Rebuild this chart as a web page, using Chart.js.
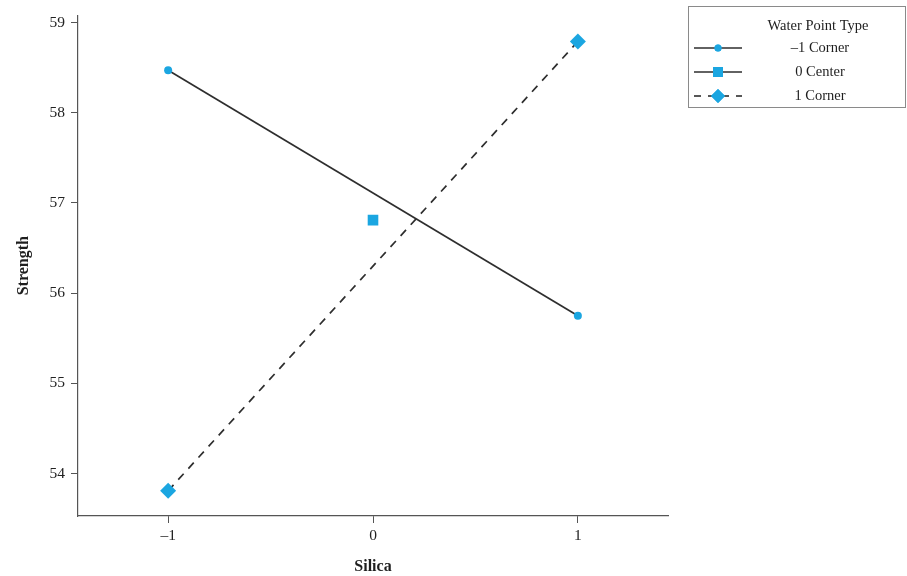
<!DOCTYPE html>
<html>
<head>
<meta charset="utf-8">
<script src="https://cdn.jsdelivr.net/npm/chart.js@4/dist/chart.umd.min.js"></script>
<style>
  html, body { margin: 0; padding: 0; background: #fff; }
  #wrap { width: 907px; height: 576px; position: relative; }
</style>
</head>
<body>
<div id="wrap"><canvas id="c" width="907" height="576"></canvas></div>
<script>
// Interaction plot: Strength vs Silica by water point type
const silicaLevels = [-1, 1];
const xTicks = [-1, 0, 1];
const yTicks = [54, 55, 56, 57, 58, 59];
const cornerLow = [58.47, 55.75];   // water point -1
const centerX = [0];
const centerPoint = [56.81];        // water point 0
const cornerHigh = [53.81, 58.79];  // water point 1
const seriesLabels = ['\u20131 Corner', '0 Center', '1 Corner'];
const legendTitle = 'Water Point Type';

const MARK = '#1ba6e1';
const LINE = '#2e2e2e';
const FONT = '"Liberation Serif", "DejaVu Serif", serif';

const pairs = (xs, ys) => xs.map((x, i) => ({ x, y: ys[i] }));

const legendPlugin = {
  id: 'wpLegend',
  afterDraw(chart) {
    const ctx = chart.ctx;
    ctx.save();
    const bx = 688, by = 6, bw = 217, bh = 101;
    ctx.strokeStyle = '#8a8a8a';
    ctx.lineWidth = 1;
    ctx.strokeRect(bx + 0.5, by + 0.5, bw, bh);
    ctx.fillStyle = '#1e1e1e';
    ctx.font = '14.5px ' + FONT;
    ctx.textAlign = 'center';
    ctx.textBaseline = 'middle';
    ctx.fillText(legendTitle, 818, 26);
    const rows = [48, 72, 96];
    const styles = [
      { dash: [], shape: 'circle', r: 3.5 },
      { dash: [], shape: 'rect', r: 7 },
      { dash: [7, 7], shape: 'rectRot', r: 7 }
    ];
    rows.forEach((y, i) => {
      const s = styles[i];
      ctx.strokeStyle = LINE;
      ctx.lineWidth = 1.6;
      ctx.setLineDash(s.dash);
      ctx.beginPath();
      ctx.moveTo(694, y);
      ctx.lineTo(742, y);
      ctx.stroke();
      ctx.setLineDash([]);
      ctx.fillStyle = MARK;
      Chart.helpers.drawPoint(ctx, { pointStyle: s.shape, radius: s.r, borderWidth: 0 }, 718, y);
      ctx.fill();
      ctx.fillStyle = '#1e1e1e';
      ctx.fillText(seriesLabels[i], 820, y);
    });
    ctx.restore();
  }
};

new Chart(document.getElementById('c'), {
  type: 'scatter',
  data: {
    datasets: [
      {
        label: seriesLabels[0],
        data: pairs(silicaLevels, cornerLow),
        showLine: true,
        borderColor: LINE,
        borderWidth: 1.7,
        pointStyle: 'circle',
        pointRadius: 4,
        pointBackgroundColor: MARK,
        pointBorderWidth: 0
      },
      {
        label: seriesLabels[1],
        data: pairs(centerX, centerPoint),
        showLine: false,
        pointStyle: 'rect',
        pointRadius: 7.5,
        pointBackgroundColor: MARK,
        pointBorderWidth: 0
      },
      {
        label: seriesLabels[2],
        data: pairs(silicaLevels, cornerHigh),
        showLine: true,
        borderColor: LINE,
        borderWidth: 1.7,
        borderDash: [8, 7],
        pointStyle: 'rectRot',
        pointRadius: 8,
        pointBackgroundColor: MARK,
        pointBorderWidth: 0
      }
    ]
  },
  options: {
    responsive: false,
    animation: false,
    layout: { padding: { top: 12, right: 239, left: 0, bottom: 0 } },
    plugins: { legend: { display: false }, tooltip: { enabled: false } },
    scales: {
      x: {
        type: 'linear',
        min: -1.44,
        max: 1.44,
        afterBuildTicks(scale) { scale.ticks = xTicks.map(v => ({ value: v })); },
        afterFit(scale) { scale.height = 60; },
        ticks: {
          color: '#222',
          font: { family: FONT, size: 15.5 },
          padding: 4,
          callback: v => (v < 0 ? '\u2013' + Math.abs(v) : String(v))
        },
        grid: { display: true, drawOnChartArea: false, drawTicks: true, tickLength: 7, color: '#555' },
        border: { display: true, color: '#555', width: 1.2 },
        title: {
          display: true,
          text: 'Silica',
          color: '#1e1e1e',
          font: { family: FONT, size: 16, weight: 'bold' },
          padding: { top: 2, bottom: 0 }
        }
      },
      y: {
        type: 'linear',
        min: 53.53,
        max: 59.08,
        afterBuildTicks(scale) { scale.ticks = yTicks.map(v => ({ value: v })); },
        afterFit(scale) { scale.width = 78; },
        ticks: {
          color: '#222',
          font: { family: FONT, size: 15.5 },
          padding: 6
        },
        grid: { display: true, drawOnChartArea: false, drawTicks: true, tickLength: 7, color: '#555' },
        border: { display: true, color: '#555', width: 1.2 },
        title: {
          display: true,
          text: 'Strength',
          color: '#1e1e1e',
          font: { family: FONT, size: 16, weight: 'bold' },
          padding: { top: 14, bottom: 4 }
        }
      }
    }
  },
  plugins: [legendPlugin]
});
</script>
</body>
</html>
